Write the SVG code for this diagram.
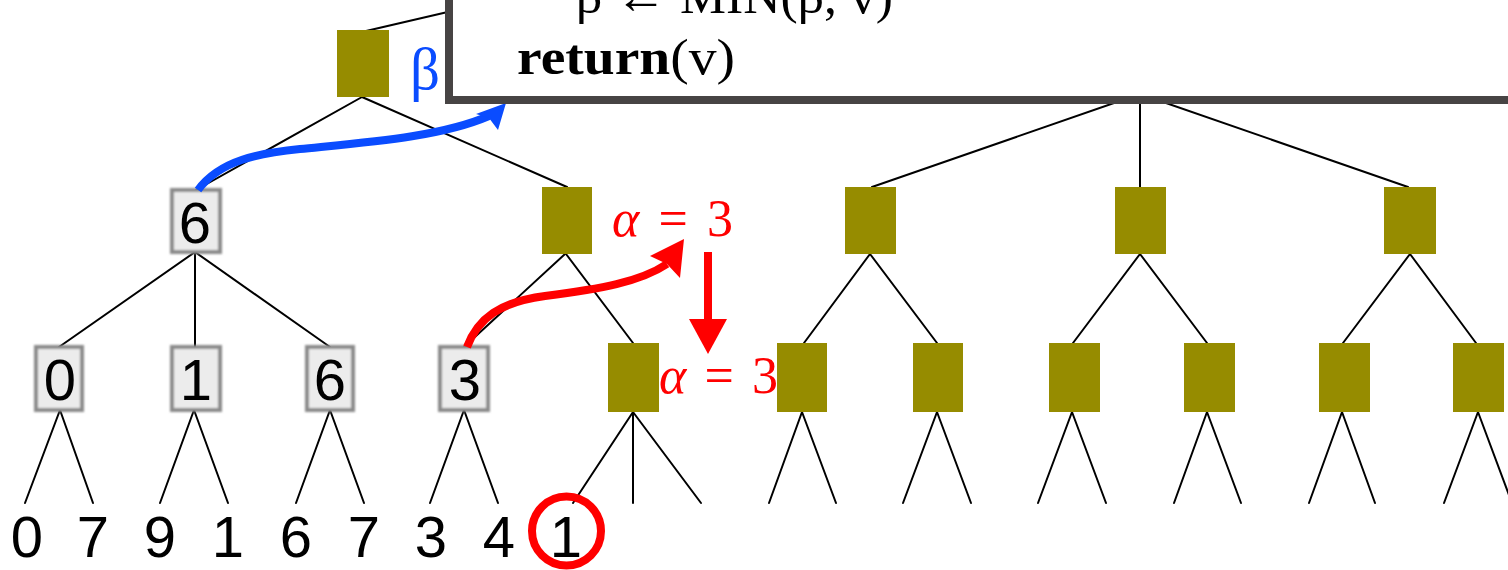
<svg xmlns="http://www.w3.org/2000/svg" width="1508" height="570" viewBox="0 0 1508 570">
<defs>
<style>
.edge{stroke:#000;stroke-width:2;fill:none;stroke-linecap:round}
.gold{fill:#968c00}
.gray{fill:#ececec;stroke:#8a8a8a;stroke-width:4;filter:url(#soft)}
.num{font-family:"Liberation Sans",Arial,sans-serif;font-size:58px;text-anchor:middle;fill:#000}
.redline{stroke:#ff0000;stroke-width:8;fill:none}
.blueline{stroke:#0a4cff;stroke-width:8;fill:none}
.math{font-family:"Liberation Serif","Times New Roman",serif;font-size:52px}
.code{font-family:"Liberation Serif","Times New Roman",serif;font-size:50px;fill:#000}
</style>
<filter id="soft" x="-20%" y="-20%" width="140%" height="140%">
<feGaussianBlur stdDeviation="1.2"/>
</filter>
</defs>
<rect x="0" y="0" width="1508" height="570" fill="#ffffff"/>

<g id="connectors">
<line class="edge" x1="366" y1="31" x2="452" y2="11"/>
<line class="edge" x1="362" y1="97" x2="196" y2="190"/>
<line class="edge" x1="362" y1="97" x2="567" y2="187"/>
<line class="edge" x1="1140" y1="94" x2="872" y2="187"/>
<line class="edge" x1="1140" y1="94" x2="1140" y2="187"/>
<line class="edge" x1="1140" y1="94" x2="1408" y2="187"/>
<line class="edge" x1="195" y1="252" x2="59" y2="347"/>
<line class="edge" x1="195" y1="252" x2="195" y2="347"/>
<line class="edge" x1="195" y1="252" x2="330" y2="347"/>
<line class="edge" x1="565" y1="254" x2="464" y2="347"/>
<line class="edge" x1="566" y1="254" x2="633" y2="343"/>
<line class="edge" x1="870" y1="254" x2="804" y2="343"/>
<line class="edge" x1="870" y1="254" x2="937" y2="343"/>
<line class="edge" x1="1140" y1="254" x2="1073" y2="343"/>
<line class="edge" x1="1140" y1="254" x2="1207" y2="343"/>
<line class="edge" x1="1410" y1="254" x2="1343" y2="343"/>
<line class="edge" x1="1410" y1="254" x2="1476" y2="343"/>
<line class="edge" x1="60" y1="410" x2="25" y2="503"/>
<line class="edge" x1="60" y1="410" x2="93" y2="503"/>
<line class="edge" x1="194" y1="410" x2="160" y2="503"/>
<line class="edge" x1="194" y1="410" x2="228" y2="503"/>
<line class="edge" x1="330" y1="410" x2="296" y2="503"/>
<line class="edge" x1="330" y1="410" x2="364" y2="503"/>
<line class="edge" x1="464" y1="410" x2="430" y2="503"/>
<line class="edge" x1="464" y1="410" x2="498" y2="503"/>
<line class="edge" x1="633" y1="412" x2="573" y2="503"/>
<line class="edge" x1="633" y1="412" x2="633" y2="503"/>
<line class="edge" x1="633" y1="412" x2="701" y2="503"/>
<line class="edge" x1="802" y1="412" x2="769" y2="503"/>
<line class="edge" x1="802" y1="412" x2="836" y2="503"/>
<line class="edge" x1="937" y1="412" x2="903" y2="503"/>
<line class="edge" x1="937" y1="412" x2="971" y2="503"/>
<line class="edge" x1="1072" y1="412" x2="1038" y2="503"/>
<line class="edge" x1="1072" y1="412" x2="1106" y2="503"/>
<line class="edge" x1="1207" y1="412" x2="1174" y2="503"/>
<line class="edge" x1="1207" y1="412" x2="1241" y2="503"/>
<line class="edge" x1="1342" y1="412" x2="1309" y2="503"/>
<line class="edge" x1="1342" y1="412" x2="1375" y2="503"/>
<line class="edge" x1="1478" y1="412" x2="1444" y2="503"/>
<line class="edge" x1="1478" y1="412" x2="1512" y2="503"/>
</g>

<g id="root-min">
<rect class="gold" x="337" y="30" width="52" height="67"/>
</g>
<g id="n-max-6">
<rect class="gray" x="172" y="190" width="48" height="62"/>
<text class="num" x="195" y="243">6</text>
</g>
<g id="n-max-b">
<rect class="gold" x="542" y="187" width="50" height="67"/>
</g>
<g id="n-max-c">
<rect class="gold" x="845" y="187" width="51" height="67"/>
</g>
<g id="n-max-d">
<rect class="gold" x="1115" y="187" width="51" height="67"/>
</g>
<g id="n-max-e">
<rect class="gold" x="1384" y="187" width="52" height="67"/>
</g>

<g id="n-min-0">
<rect class="gray" x="36" y="347" width="46" height="63"/>
<text class="num" x="60" y="400">0</text>
</g>
<g id="n-min-1">
<rect class="gray" x="172" y="347" width="48" height="63"/>
<text class="num" x="196" y="400">1</text>
</g>
<g id="n-min-6">
<rect class="gray" x="307" y="347" width="46" height="63"/>
<text class="num" x="330" y="400">6</text>
</g>
<g id="n-min-3">
<rect class="gray" x="440" y="347" width="48" height="63"/>
<text class="num" x="465" y="400">3</text>
</g>
<g id="n-min-g1"><rect class="gold" x="608" y="343" width="51" height="69"/></g>
<g id="n-min-g2"><rect class="gold" x="777" y="343" width="50" height="69"/></g>
<g id="n-min-g3"><rect class="gold" x="913" y="343" width="50" height="69"/></g>
<g id="n-min-g4"><rect class="gold" x="1049" y="343" width="51" height="69"/></g>
<g id="n-min-g5"><rect class="gold" x="1184" y="343" width="51" height="69"/></g>
<g id="n-min-g6"><rect class="gold" x="1319" y="343" width="51" height="69"/></g>
<g id="n-min-g7"><rect class="gold" x="1453" y="343" width="51" height="69"/></g>

<g id="leaves">
<g id="leaf-1"><text class="num" x="27" y="557">0</text></g>
<g id="leaf-2"><text class="num" x="93" y="557">7</text></g>
<g id="leaf-3"><text class="num" x="160" y="557">9</text></g>
<g id="leaf-4"><text class="num" x="228" y="557">1</text></g>
<g id="leaf-5"><text class="num" x="296" y="557">6</text></g>
<g id="leaf-6"><text class="num" x="364" y="557">7</text></g>
<g id="leaf-7"><text class="num" x="431" y="557">3</text></g>
<g id="leaf-8"><text class="num" x="499" y="557">4</text></g>
<g id="leaf-9"><text class="num" x="566" y="557">1</text>
<ellipse cx="566.5" cy="531" rx="34.5" ry="34.5" fill="none" stroke="#ff0000" stroke-width="8"/></g>
</g>

<g id="blue-arrow">
<path class="blueline" d="M198,190 C220,160 260,153 300,149 C370,142 440,137 489,116"/>
<polygon fill="#0a4cff" points="506,103 476,114 489,118 498,130"/>
</g>
<text x="410" y="89" class="math" style="font-size:59px" fill="#0a4cff">β</text>

<g id="red-arrows">
<path class="redline" d="M467,347 C478,318 500,302 545,296 C600,289 640,282 667,264"/>
<polygon fill="#ff0000" points="684,239 650,256 667,264 680,278"/>
<line class="redline" x1="708" y1="252" x2="708" y2="324"/>
<polygon fill="#ff0000" points="689,319 727,319 708,354"/>
</g>
<text class="math" x="612" y="236" fill="#ff0000" textLength="121" lengthAdjust="spacing"><tspan font-style="italic">α</tspan> = 3</text>
<text class="math" x="659" y="393" fill="#ff0000" textLength="119" lengthAdjust="spacing"><tspan font-style="italic">α</tspan> = 3</text>

<g id="code-box">
<rect x="449" y="-60" width="1120" height="160" fill="#ffffff" stroke="#474444" stroke-width="8"/>
<text class="code" x="576" y="13" textLength="317" lengthAdjust="spacingAndGlyphs">β ← MIN(β, v)</text>
<text class="code" x="517" y="74" textLength="218" lengthAdjust="spacingAndGlyphs"><tspan font-weight="bold">return</tspan>(v)</text>
</g>
</svg>
